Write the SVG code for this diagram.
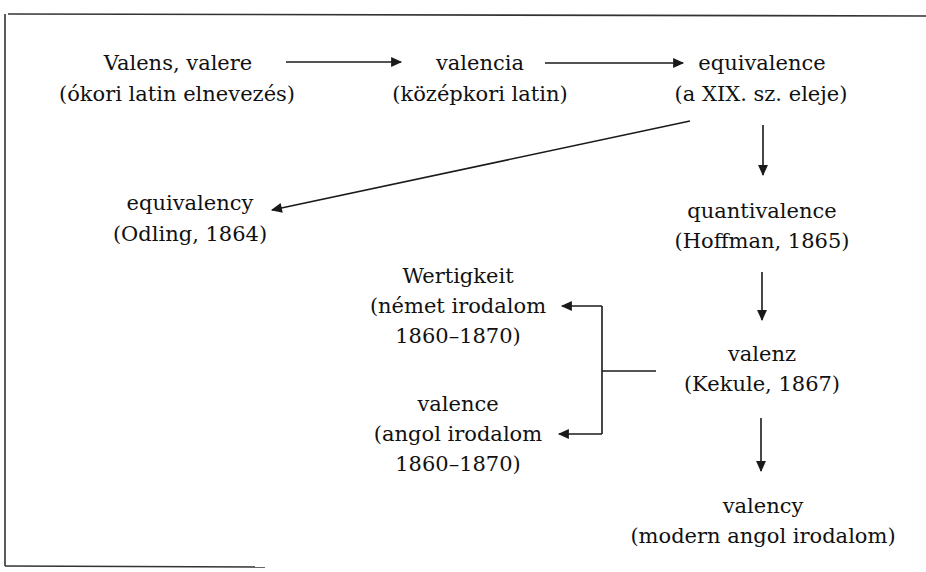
<svg xmlns="http://www.w3.org/2000/svg" width="926" height="572" viewBox="0 0 926 572">
<defs>
<style>
text{font-family:"DejaVu Serif","Liberation Serif",serif;font-size:21px;fill:#111;text-anchor:middle}
.c{stroke:#1a1a1a;stroke-width:1.6;fill:none}
.f{stroke:#333;stroke-width:1.6;fill:none}
</style>
<marker id="ah" viewBox="0 0 10 10" refX="9" refY="5" markerWidth="13" markerHeight="11" markerUnits="userSpaceOnUse" orient="auto">
<path d="M0,0.5 L10,5 L0,9.5 z" fill="#1a1a1a"/>
</marker>
</defs>
<g id="frame">
<line class="f" x1="8" y1="14" x2="926" y2="16"/>
<line class="f" x1="5" y1="14" x2="5" y2="566" stroke-width="1"/>
<line class="f" x1="5" y1="566" x2="265" y2="567"/>
</g>
<g id="n-valens"><text x="178" y="70">Valens, valere</text><text x="177" y="101">(ókori latin elnevezés)</text></g>
<g id="n-valencia"><text x="480" y="70">valencia</text><text x="480" y="101">(középkori latin)</text></g>
<g id="n-equivalence"><text x="762" y="70">equivalence</text><text x="761" y="101">(a XIX. sz. eleje)</text></g>
<g id="n-equivalency"><text x="190" y="210">equivalency</text><text x="190" y="241">(Odling, 1864)</text></g>
<g id="n-quantivalence"><text x="762" y="218">quantivalence</text><text x="762" y="248">(Hoffman, 1865)</text></g>
<g id="n-wertigkeit"><text x="458" y="283">Wertigkeit</text><text x="458" y="313">(német irodalom</text><text x="458" y="343">1860–1870)</text></g>
<g id="n-valenz"><text x="762" y="361">valenz</text><text x="762" y="391">(Kekule, 1867)</text></g>
<g id="n-valence"><text x="458" y="411">valence</text><text x="458" y="441">(angol irodalom</text><text x="458" y="471">1860–1870)</text></g>
<g id="n-valency"><text x="763" y="513">valency</text><text x="763" y="543">(modern angol irodalom)</text></g>
<g id="connectors">
<line class="c" x1="286" y1="62" x2="401" y2="62" marker-end="url(#ah)"/>
<line class="c" x1="545" y1="63" x2="683" y2="63" marker-end="url(#ah)"/>
<line class="c" x1="690" y1="121" x2="272" y2="210" marker-end="url(#ah)"/>
<line class="c" x1="763" y1="125" x2="763" y2="175" marker-end="url(#ah)"/>
<line class="c" x1="762" y1="272" x2="762" y2="320" marker-end="url(#ah)"/>
<line class="c" x1="761" y1="418" x2="761" y2="471" marker-end="url(#ah)"/>
<line class="c" x1="602" y1="371" x2="656" y2="371"/>
<line class="c" x1="602" y1="306" x2="602" y2="434"/>
<line class="c" x1="602" y1="306" x2="562" y2="306" marker-end="url(#ah)"/>
<line class="c" x1="602" y1="434" x2="559" y2="434" marker-end="url(#ah)"/>
</g>
</svg>
